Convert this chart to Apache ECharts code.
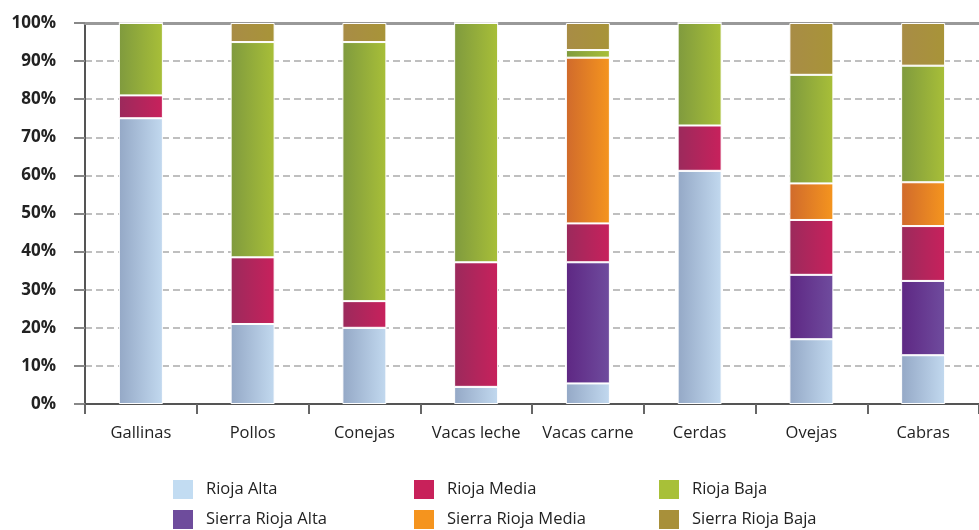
<!DOCTYPE html>
<html>
<head>
<meta charset="utf-8">
<script src="https://cdn.jsdelivr.net/npm/echarts@6/dist/echarts.min.js"></script>
<style>
  html, body { margin: 0; padding: 0; background: #fff; }
  #chart { width: 979px; height: 530px; }
</style>
</head>
<body>
<div id="chart"></div>
<script>
var categories = ['Gallinas', 'Pollos', 'Conejas', 'Vacas leche', 'Vacas carne', 'Cerdas', 'Ovejas', 'Cabras']
var yTicks = [0, 10, 20, 30, 40, 50, 60, 70, 80, 90, 100]

// porcentajes por zona (orden de apilado de abajo arriba)
var riojaAlta = [75, 21, 20, 4.5, 5.4, 61.2, 17, 12.8]
var sierraRiojaAlta = [0, 0, 0, 0, 31.8, 0, 16.9, 19.5]
var riojaMedia = [6, 17.5, 7, 32.7, 10.2, 11.9, 14.4, 14.4]
var sierraRiojaMedia = [0, 0, 0, 0, 43.5, 0, 9.6, 11.5]
var riojaBaja = [19, 56.5, 68, 62.8, 2, 26.9, 28.5, 30.6]
var sierraRiojaBaja = [0, 5, 5, 0, 7.1, 0, 13.6, 11.2]

var chart = echarts.init(document.getElementById('chart'))

function grad(a, b) {
  return new echarts.graphic.LinearGradient(0, 0, 1, 0, [
    {offset: 0, color: a},
    {offset: 1, color: b}
  ])
}

function serie(name, data, c1, c2) {
  return {
    name: name,
    type: 'bar',
    stack: 'total',
    barWidth: 44,
    data: data,
    itemStyle: {
      color: grad(c1, c2),
      borderColor: '#ffffff',
      borderWidth: 1
    }
  }
}

var legendText = {fontFamily: 'Open Sans', fontSize: 16.5, color: '#222', padding: [0, 0, 0, 7]}

// una leyenda por elemento para fijar las columnas
function leyenda(name, color, left, top) {
  return {
    data: [{name: name, itemStyle: {color: color}}],
    left: left,
    top: top,
    padding: 0,
    itemWidth: 22,
    itemHeight: 21,
    icon: 'rect',
    textStyle: legendText
  }
}

chart.setOption({
  animation: false,
  grid: {left: 85, top: 23, width: 904, height: 381},
  legend: [
    leyenda('Rioja Alta', '#c2dcf2', 171, 478),
    leyenda('Sierra Rioja Alta', '#6e4c9c', 171, 508),
    leyenda('Rioja Media', '#c8215a', 412, 478),
    leyenda('Sierra Rioja Media', '#f5941e', 412, 508),
    leyenda('Rioja Baja', '#a8c038', 657, 478),
    leyenda('Sierra Rioja Baja', '#a8903a', 657, 508)
  ],
  xAxis: [{
    type: 'category',
    data: categories,
    axisLine: {lineStyle: {color: '#555', width: 2}},
    axisTick: {show: true, interval: 0, length: 10, lineStyle: {color: '#666', width: 2}},
    axisLabel: {interval: 0, fontFamily: 'Open Sans', fontSize: 16.5, color: '#222', margin: 21}
  }, {
    type: 'category',
    position: 'top',
    data: categories,
    axisLine: {lineStyle: {color: '#999', width: 3}},
    axisTick: {show: false},
    axisLabel: {show: false}
  }],
  yAxis: {
    type: 'value',
    min: 0,
    max: 100,
    interval: 10,
    axisLine: {show: true, lineStyle: {color: '#555', width: 2}},
    axisTick: {show: true, length: 11, lineStyle: {color: '#888', width: 2}},
    axisLabel: {
      fontFamily: 'Open Sans', fontSize: 17, fontWeight: 'bold', color: '#222', margin: 29,
      formatter: function (v) { return yTicks.indexOf(v) >= 0 ? v + '%' : '' }
    },
    splitLine: {lineStyle: {color: '#aaa', width: 1.5, type: [7, 4]}}
  },
  series: [
    serie('Rioja Alta', riojaAlta, '#94a8c6', '#c2d9ef'),
    serie('Sierra Rioja Alta', sierraRiojaAlta, '#5e2783', '#6f4c9e'),
    serie('Rioja Media', riojaMedia, '#9b2a5c', '#c8215c'),
    serie('Sierra Rioja Media', sierraRiojaMedia, '#d06a2c', '#f5951e'),
    serie('Rioja Baja', riojaBaja, '#7f9a3e', '#a8bf38'),
    serie('Sierra Rioja Baja', sierraRiojaBaja, '#a88c46', '#a89438')
  ]
})
</script>
</body>
</html>
